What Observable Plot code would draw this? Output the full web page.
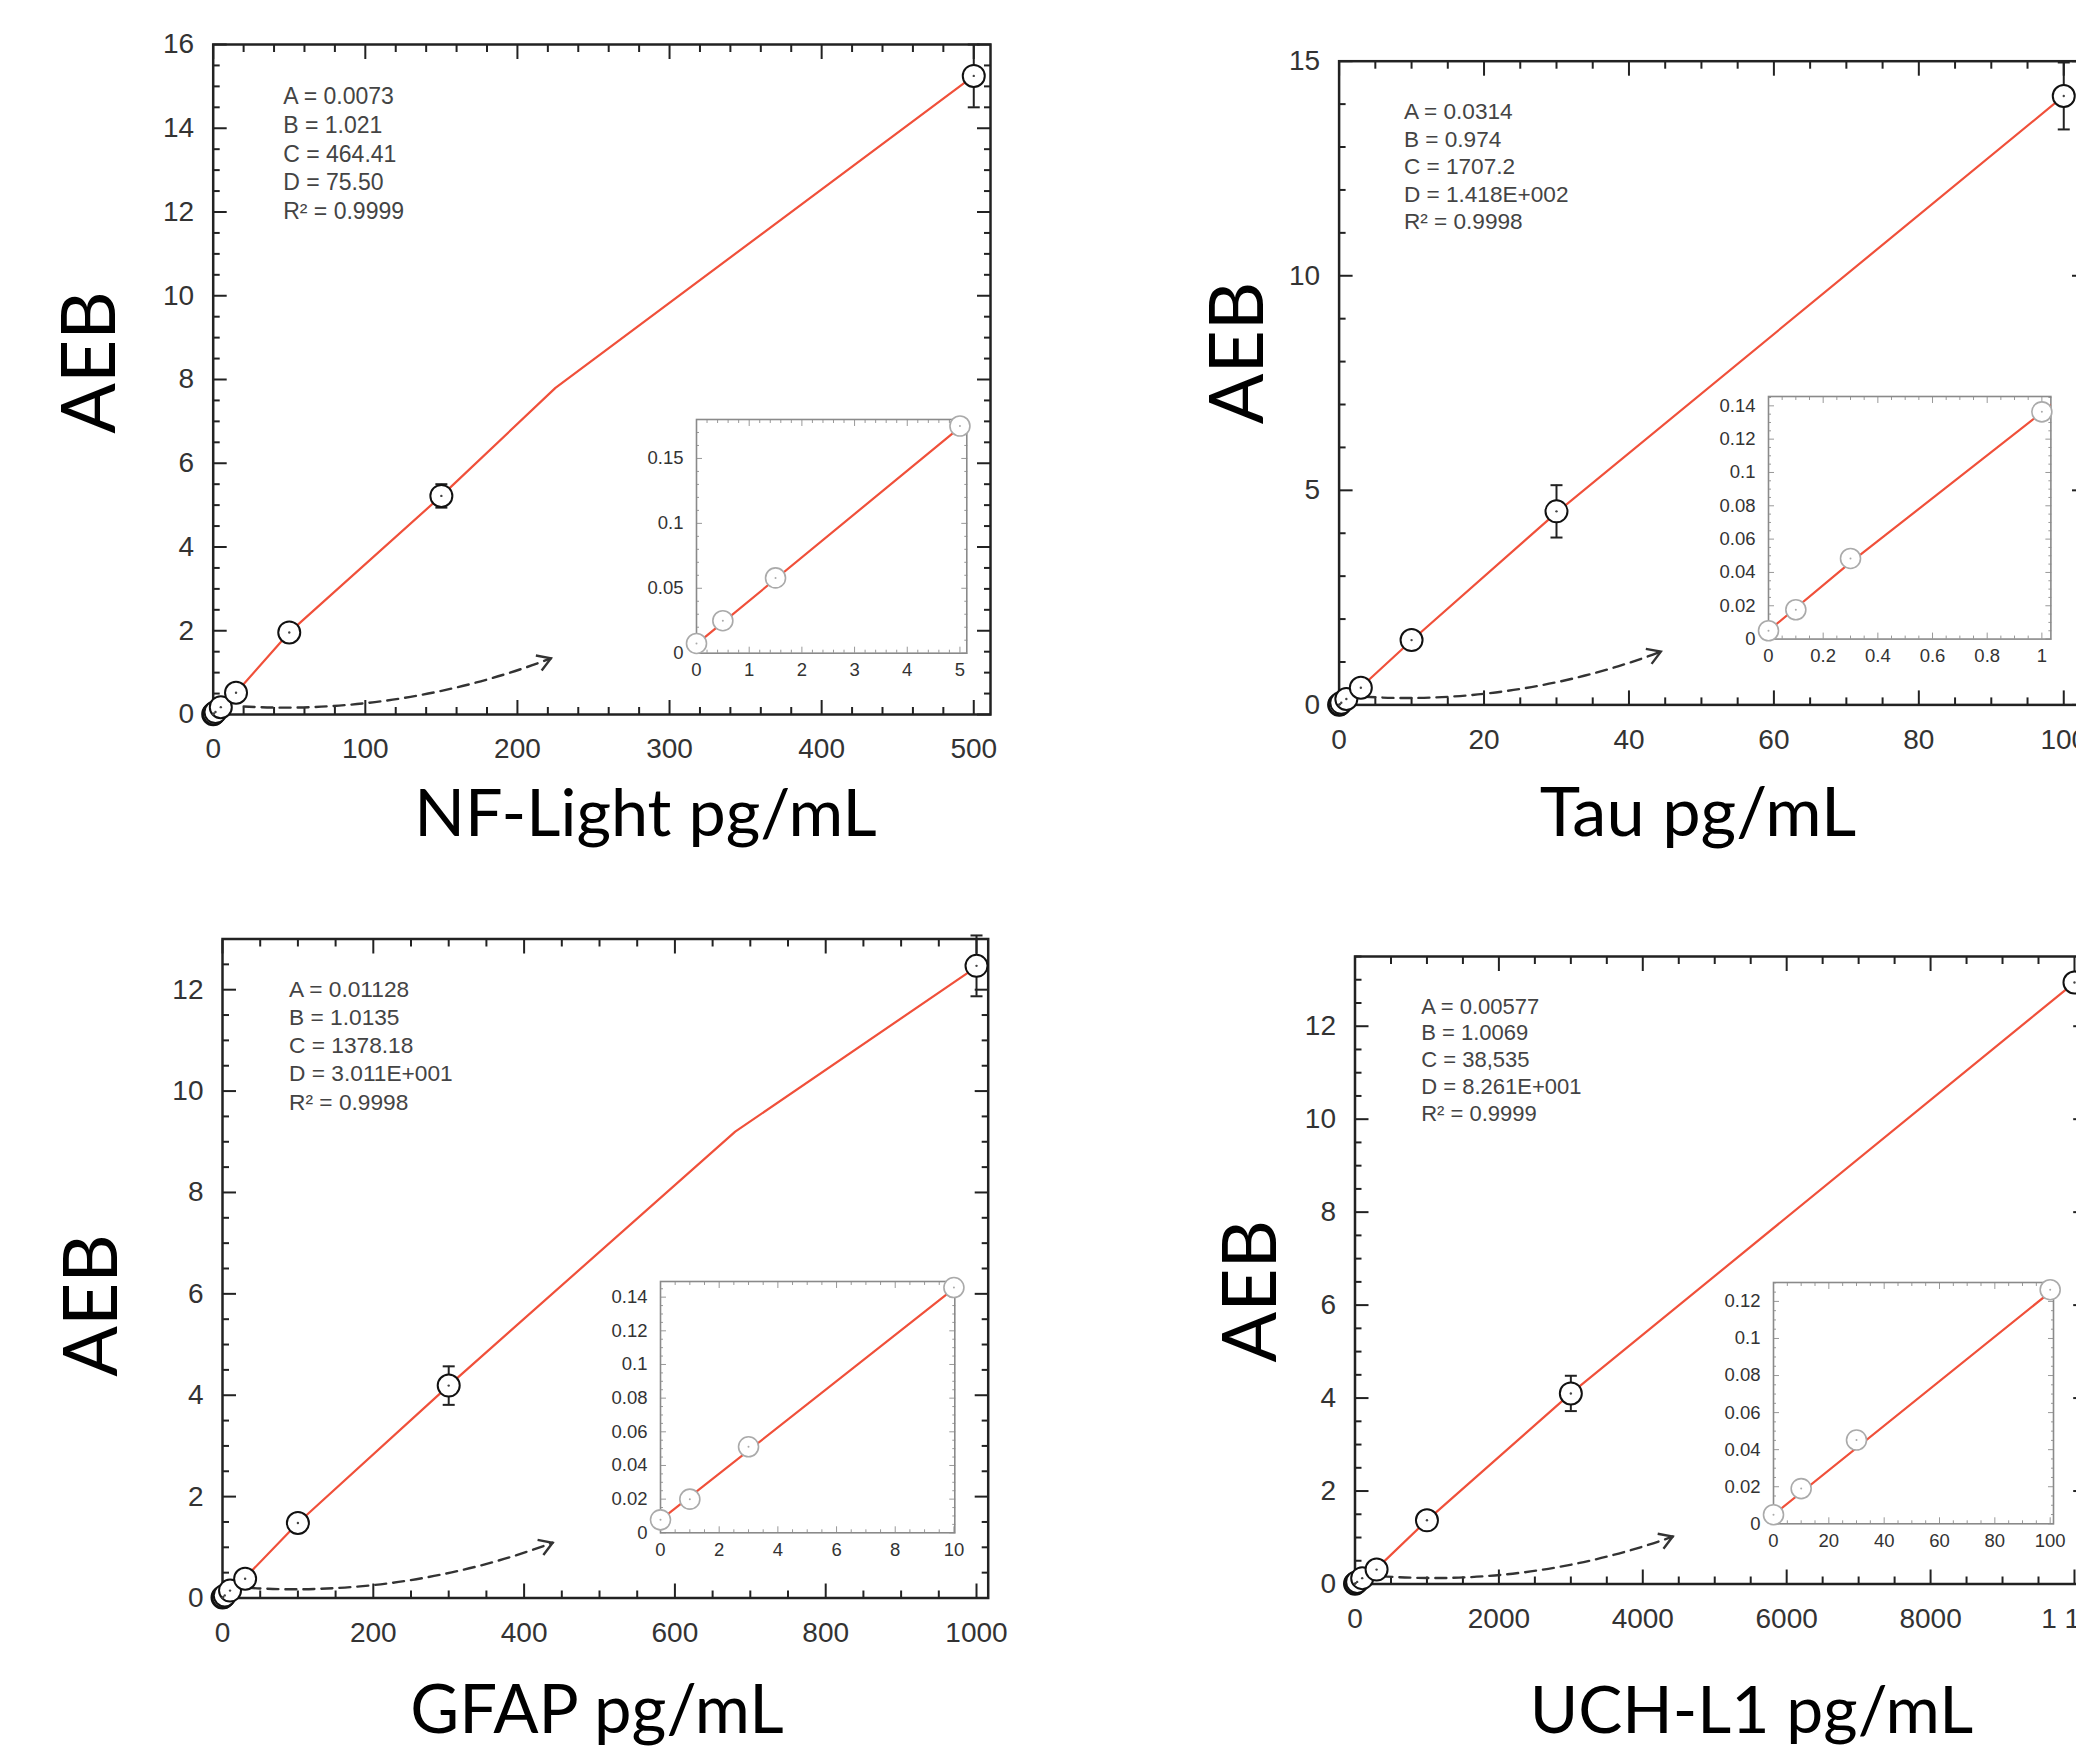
<!DOCTYPE html>
<html><head><meta charset="utf-8">
<script src="https://cdn.jsdelivr.net/npm/d3@7"></script>
<script src="https://cdn.jsdelivr.net/npm/@observablehq/plot@0.6"></script>
<style>
html,body{margin:0;padding:0;background:#fff;}
#root{position:relative;width:2076px;height:1755px;overflow:hidden;background:#fff;}
#root svg{position:absolute;max-width:none !important;overflow:visible;}
</style></head>
<body><div id="root"></div>
<script>
// ================= DATA =================
// NF-Light
const nflConc   = [0, 0.5, 1.5, 5, 15, 50, 150, 500];
const nflAEB    = [0.0075, 0.025, 0.058, 0.175, 0.52, 1.96, 5.22, 15.25];
const nflErr    = [0, 0, 0, 0, 0, 0, 0.28, 0.75];
const nflFitConc = [0, 5, 15, 50, 150, 225, 500];
const nflFitAEB  = [0.007, 0.174, 0.52, 1.96, 5.22, 7.8, 15.25];
const nflParams = ["A = 0.0073", "B = 1.021", "C = 464.41", "D = 75.50", "R² = 0.9999"];
const nflXTicks = [0, 100, 200, 300, 400, 500];
const nflXTickLabels = ["0", "100", "200", "300", "400", "500"];
const nflYTicks = [0, 2, 4, 6, 8, 10, 12, 14, 16];
const nflInsetXTicks = [0, 1, 2, 3, 4, 5];
const nflInsetYTicks = [0, 0.05, 0.1, 0.15];
const nflArrow = {x1: 20, y1: 0.19, x2: 222, y2: 1.34};

// Tau
const tauConc   = [0, 0.1, 0.3, 1, 3, 10, 30, 100];
const tauAEB    = [0.005, 0.0176, 0.0484, 0.1364, 0.40, 1.51, 4.51, 14.19];
const tauErr    = [0, 0, 0, 0, 0, 0, 0.61, 0.78];
const tauFitConc = [0, 0.3, 1, 3, 10, 30, 100];
const tauFitAEB  = [0.005, 0.046, 0.136, 0.41, 1.5, 4.48, 14.19];
const tauParams = ["A = 0.0314", "B = 0.974", "C = 1707.2", "D = 1.418E+002", "R² = 0.9998"];
const tauXTicks = [0, 20, 40, 60, 80, 100];
const tauXTickLabels = ["0", "20", "40", "60", "80", "100"];
const tauYTicks = [0, 5, 10, 15];
const tauInsetXTicks = [0, 0.2, 0.4, 0.6, 0.8, 1];
const tauInsetYTicks = [0, 0.02, 0.04, 0.06, 0.08, 0.1, 0.12, 0.14];
const tauArrow = {x1: 3.5, y1: 0.19, x2: 44.4, y2: 1.24};

// GFAP
const gfapConc  = [0, 1, 3, 10, 30, 100, 300, 1000];
const gfapAEB   = [0.0077, 0.02, 0.0511, 0.1457, 0.38, 1.48, 4.19, 12.47];
const gfapErr   = [0, 0, 0, 0, 0, 0, 0.38, 0.6];
const gfapFitConc = [0, 10, 30, 100, 300, 680, 1000];
const gfapFitAEB  = [0.0077, 0.145, 0.4, 1.48, 4.19, 9.2, 12.45];
const gfapParams = ["A = 0.01128", "B = 1.0135", "C = 1378.18", "D = 3.011E+001", "R² = 0.9998"];
const gfapXTicks = [0, 200, 400, 600, 800, 1000];
const gfapXTickLabels = ["0", "200", "400", "600", "800", "1000"];
const gfapYTicks = [0, 2, 4, 6, 8, 10, 12];
const gfapInsetXTicks = [0, 2, 4, 6, 8, 10];
const gfapInsetYTicks = [0, 0.02, 0.04, 0.06, 0.08, 0.1, 0.12, 0.14];
const gfapArrow = {x1: 35.7, y1: 0.2, x2: 437.8, y2: 1.09};

// UCH-L1
const uchConc   = [0, 10, 30, 100, 300, 1000, 3000, 10000];
const uchAEB    = [0.0049, 0.019, 0.0452, 0.1263, 0.31, 1.37, 4.10, 12.94];
const uchErr    = [0, 0, 0, 0, 0, 0, 0.38, 0];
const uchFitConc = [0, 100, 300, 1000, 3000, 10000];
const uchFitAEB  = [0.0049, 0.125, 0.33, 1.37, 4.1, 12.94];
const uchParams = ["A = 0.00577", "B = 1.0069", "C = 38,535", "D = 8.261E+001", "R² = 0.9999"];
const uchXTicks = [0, 2000, 4000, 6000, 8000, 10000];
const uchXTickLabels = ["0", "2000", "4000", "6000", "8000", "1 10⁴"];
const uchYTicks = [0, 2, 4, 6, 8, 10, 12];
const uchInsetXTicks = [0, 20, 40, 60, 80, 100];
const uchInsetYTicks = [0, 0.02, 0.04, 0.06, 0.08, 0.1, 0.12];
const uchArrow = {x1: 367, y1: 0.17, x2: 4416, y2: 1.02};

const yTitle = "AEB";
const titles = ["NF-Light pg/mL", "Tau pg/mL", "GFAP pg/mL", "UCH-L1 pg/mL"];

// ================= LAYOUT (positions / styles) =================
const layouts = [
  {svg:[0,0,1040,870], frame:[212.7,990,44,714], xDomain:[0,511], yDomain:[0,16],
   xMinor:20, yMinor:0.5,
   inset:[695.7,966,419.3,653], insetX:[0,5.13], insetY:[0,0.18], insetXMinor:0.2, insetYMinor:0.01,
   params:[70,39.5,23,28.6], aeb:[-122.7,-17], title:[43.6,100,66.5]},
  {svg:[1040,0,1100,870], frame:[1338.6,2085,60.7,704.4], xDomain:[0,103], yDomain:[0,15],
   xMinor:5, yMinor:1,
   inset:[1768.3,2050.7,395.7,638.3], insetX:[0,1.033], insetY:[0,0.1456], insetXMinor:0.05, insetYMinor:0.005,
   params:[64.8,38.3,22.6,27.5], aeb:[-100.6,-30], title:[-14.4,109.6,68.5]},
  {svg:[0,870,1040,885], frame:[222,987.7,938.5,1597.5], xDomain:[0,1015.5], yDomain:[0,13],
   xMinor:50, yMinor:0.5,
   inset:[660,954.3,1280.7,1532], insetX:[0,10.03], insetY:[0,0.1493], insetXMinor:0.5, insetYMinor:0.005,
   params:[66.6,38.2,22.7,28.1], aeb:[-129.5,37], title:[-8.4,113.5,67]},
  {svg:[1040,870,1100,885], frame:[1354.5,2086.2,956,1583.5], xDomain:[0,10170], yDomain:[0,13.5],
   xMinor:500, yMinor:0.5,
   inset:[1773.3,2053.3,1281.7,1523], insetX:[0,101.2], insetY:[0,0.1302], insetXMinor:5, insetYMinor:0.005,
   params:[66.2,38,22,26.8], aeb:[-103.5,21], title:[30.6,127.5,66]}
];

const datasets = [
  {conc:nflConc, aeb:nflAEB, err:nflErr, fitConc:nflFitConc, fitAEB:nflFitAEB, params:nflParams,
   xTicks:nflXTicks, xLabels:nflXTickLabels, yTicks:nflYTicks, ixTicks:nflInsetXTicks, iyTicks:nflInsetYTicks, arrow:nflArrow},
  {conc:tauConc, aeb:tauAEB, err:tauErr, fitConc:tauFitConc, fitAEB:tauFitAEB, params:tauParams,
   xTicks:tauXTicks, xLabels:tauXTickLabels, yTicks:tauYTicks, ixTicks:tauInsetXTicks, iyTicks:tauInsetYTicks, arrow:tauArrow},
  {conc:gfapConc, aeb:gfapAEB, err:gfapErr, fitConc:gfapFitConc, fitAEB:gfapFitAEB, params:gfapParams,
   xTicks:gfapXTicks, xLabels:gfapXTickLabels, yTicks:gfapYTicks, ixTicks:gfapInsetXTicks, iyTicks:gfapInsetYTicks, arrow:gfapArrow},
  {conc:uchConc, aeb:uchAEB, err:uchErr, fitConc:uchFitConc, fitAEB:uchFitAEB, params:uchParams,
   xTicks:uchXTicks, xLabels:uchXTickLabels, yTicks:uchYTicks, ixTicks:uchInsetXTicks, iyTicks:uchInsetYTicks, arrow:uchArrow}
];

const RED = "#f0503a";
const AXIS = "#222";
const NUMFONT = "'Liberation Sans', Arial, Helvetica, sans-serif";
const BIGFONT = "Lato, 'Open Sans', sans-serif";

const capSymbol = {draw(ctx, size) { const r = Math.sqrt(size / Math.PI); ctx.moveTo(-r, 0); ctx.lineTo(r, 0); }};
const chevronSymbol = {draw(ctx, size) { const r = Math.sqrt(size / Math.PI); ctx.moveTo(-r, -r * 0.62); ctx.lineTo(0, 0); ctx.lineTo(-r, r * 0.62); }};

function minorTicks(domain, step, majors) {
  const out = [];
  const n = Math.floor(domain[1] / step + 1e-9);
  for (let i = 0; i <= n; i++) {
    const v = +(i * step).toFixed(8);
    if (!majors.some(m => Math.abs(m - v) < step * 1e-3)) out.push(v);
  }
  return out;
}

function frameTicks(xMaj, xMin, yMaj, yMin, majLen, minLen, stroke, sw) {
  const marks = [];
  for (const anchor of ["bottom", "top"]) {
    marks.push(Plot.axisX({anchor, ticks: xMaj, tickSize: -majLen, fill: "none", stroke, strokeWidth: sw, label: null}));
    marks.push(Plot.axisX({anchor, ticks: xMin, tickSize: -minLen, fill: "none", stroke, strokeWidth: sw, label: null}));
  }
  for (const anchor of ["left", "right"]) {
    marks.push(Plot.axisY({anchor, ticks: yMaj, tickSize: -majLen, fill: "none", stroke, strokeWidth: sw, label: null}));
    marks.push(Plot.axisY({anchor, ticks: yMin, tickSize: -minLen, fill: "none", stroke, strokeWidth: sw, label: null}));
  }
  return marks;
}

const root = document.getElementById("root");

datasets.forEach((d, k) => {
  const L = layouts[k];
  const [sl, st, sw, sh] = L.svg;
  const [fl, fr, ft, fb] = L.frame;
  const pts = d.conc.map((c, i) => ({x: c, y: d.aeb[i], e: d.err[i]}));
  const errs = pts.filter(p => p.e > 0);
  const fit = d.fitConc.map((c, i) => ({x: c, y: d.fitAEB[i]}));
  const xLabel = v => { const i = d.xTicks.indexOf(v); return i >= 0 ? d.xLabels[i] : String(v); };

  const main = Plot.plot({
    width: sw, height: sh,
    marginLeft: fl - sl, marginRight: sl + sw - fr,
    marginTop: ft - st, marginBottom: st + sh - fb,
    x: {domain: L.xDomain}, y: {domain: L.yDomain},
    style: {fontFamily: NUMFONT, background: "white", overflow: "visible"},
    marks: [
      Plot.axisX({ticks: d.xTicks, tickSize: 0, tickPadding: 24, stroke: "none", fill: "#333",
                  fontSize: 28, label: null, tickFormat: xLabel}),
      Plot.axisY({ticks: d.yTicks, tickSize: 0, tickPadding: 19, stroke: "none", fill: "#333",
                  fontSize: 28, label: null, tickFormat: v => String(v)}),
      ...frameTicks(d.xTicks, minorTicks(L.xDomain, L.xMinor, d.xTicks),
                    d.yTicks, minorTicks(L.yDomain, L.yMinor, d.yTicks), 14, 7, AXIS, 2),
      Plot.frame({stroke: AXIS, strokeWidth: 2.5}),
      Plot.line(fit, {x: "x", y: "y", stroke: RED, strokeWidth: 2.2}),
      Plot.arrow([d.arrow], {x1: "x1", y1: "y1", x2: "x2", y2: "y2", bend: -12, headLength: 0,
                             stroke: "#333", strokeWidth: 2.4, strokeDasharray: "11,7"}),
      Plot.dot([d.arrow], {x: "x2", y: "y2", symbol: chevronSymbol, r: 13, fill: "none",
                           stroke: "#333", strokeWidth: 2.4, rotate: -21}),
      Plot.ruleX(errs, {x: "x", y1: p => p.y - p.e, y2: p => p.y + p.e, stroke: AXIS, strokeWidth: 2}),
      Plot.dot(errs, {x: "x", y: p => p.y + p.e, symbol: capSymbol, r: 6, fill: "none", stroke: AXIS, strokeWidth: 2}),
      Plot.dot(errs, {x: "x", y: p => p.y - p.e, symbol: capSymbol, r: 6, fill: "none", stroke: AXIS, strokeWidth: 2}),
      Plot.dot(pts, {x: "x", y: "y", r: 11, fill: "white", stroke: "#111", strokeWidth: 2}),
      Plot.dot(pts, {x: "x", y: "y", r: 1.2, fill: "#444"}),
      Plot.text([d.params.join("\n")], {frameAnchor: "top-left", dx: L.params[0], dy: L.params[1],
                 textAnchor: "start", lineAnchor: "top", fontSize: L.params[2],
                 lineHeight: L.params[3] / L.params[2], fill: "#444"}),
      Plot.text([yTitle], {frameAnchor: "left", dx: L.aeb[0], dy: L.aeb[1], rotate: -90,
                 textAnchor: "middle", lineAnchor: "middle",
                 fontSize: 75, fontFamily: BIGFONT, fill: "#000"}),
      Plot.text([titles[k]], {frameAnchor: "bottom", dx: L.title[0], dy: L.title[1],
                 textAnchor: "middle", lineAnchor: "middle",
                 fontSize: L.title[2], fontFamily: BIGFONT, fill: "#000"})
    ]
  });
  main.style.left = sl + "px";
  main.style.top = st + "px";
  root.appendChild(main);

  // ---- inset ----
  const [il, ir, it, ib] = L.inset;
  const mL = 75, mR = 25, mT = 18, mB = 40;
  const ipts = pts.filter(p => p.x <= L.insetX[1] + 1e-9);
  const inset = Plot.plot({
    width: (ir - il) + mL + mR, height: (ib - it) + mT + mB,
    marginLeft: mL, marginRight: mR, marginTop: mT, marginBottom: mB,
    x: {domain: L.insetX}, y: {domain: L.insetY},
    style: {fontFamily: NUMFONT, background: "transparent", overflow: "visible"},
    marks: [
      Plot.axisX({ticks: d.ixTicks, tickSize: 0, tickPadding: 10, stroke: "none", fill: "#333",
                  fontSize: 18.5, label: null, tickFormat: v => String(v)}),
      Plot.axisY({ticks: d.iyTicks, tickSize: 0, tickPadding: 13, stroke: "none", fill: "#333",
                  fontSize: 18.5, label: null, tickFormat: v => String(v)}),
      ...frameTicks(d.ixTicks, minorTicks(L.insetX, L.insetXMinor, d.ixTicks),
                    d.iyTicks, minorTicks(L.insetY, L.insetYMinor, d.iyTicks), 6, 3, "#999", 1),
      Plot.frame({stroke: "#8a8a8a", strokeWidth: 1.6}),
      Plot.line(fit, {x: "x", y: "y", stroke: RED, strokeWidth: 2.2, clip: true}),
      Plot.dot(ipts, {x: "x", y: "y", r: 10, fill: "white", stroke: "#aaa", strokeWidth: 1.6}),
      Plot.dot(ipts, {x: "x", y: "y", r: 1, fill: "#aaa"})
    ]
  });
  inset.style.left = (il - mL) + "px";
  inset.style.top = (it - mT) + "px";
  root.appendChild(inset);
});
</script>
</body></html>
